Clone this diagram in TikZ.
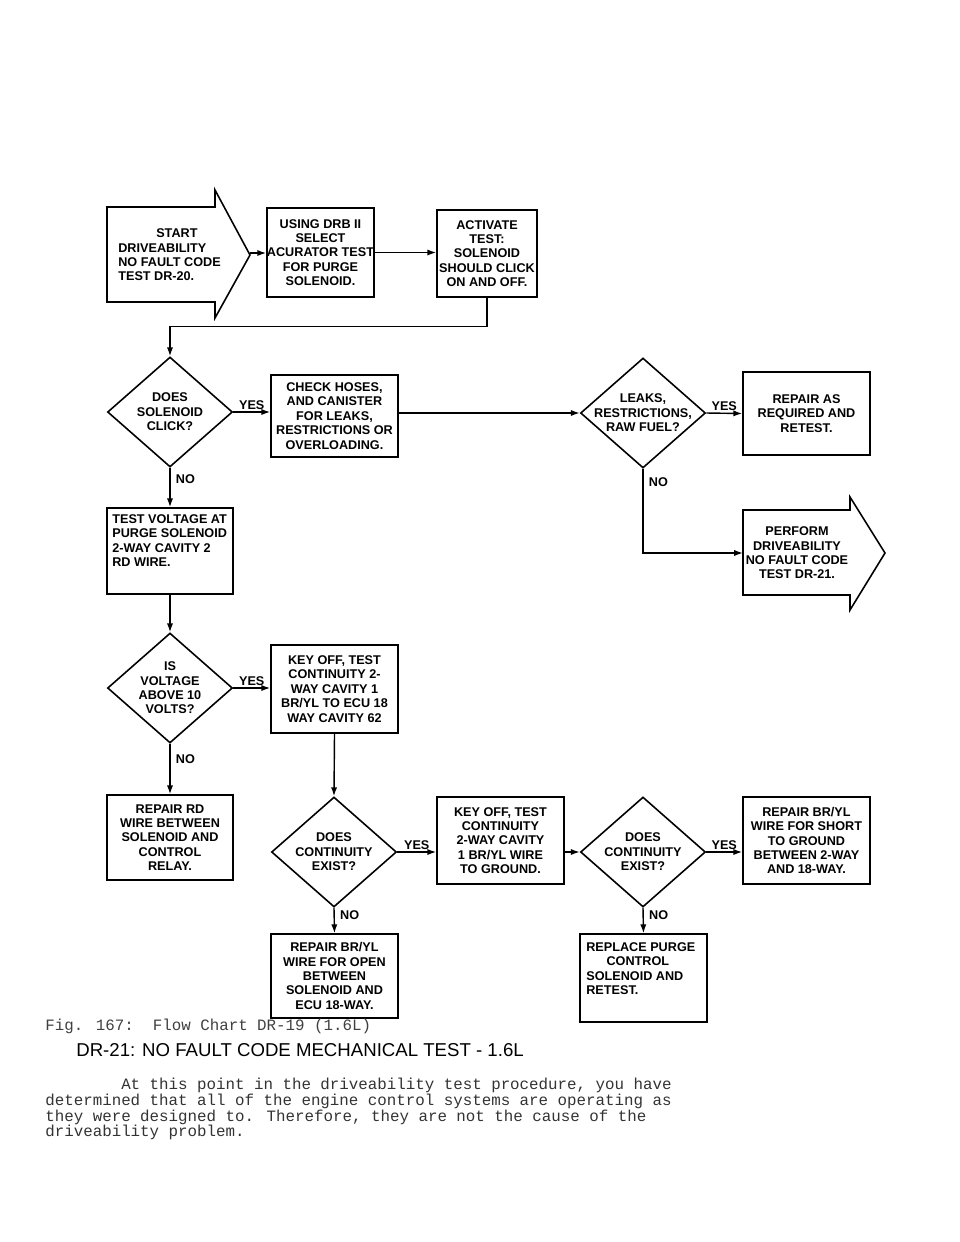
\documentclass[tikz,border=0pt]{standalone}
\usepackage{fontspec}
\setmainfont{Liberation Sans}
\newfontfamily\monof{Liberation Mono}
\usetikzlibrary{shapes.geometric,arrows.meta}
\begin{document}
\begin{tikzpicture}[x=0.02cm,y=-0.02cm,
  txt/.style={font=\fontsize{7.2}{8.2}\selectfont\bfseries,align=center,inner sep=0},
  box/.style={draw,line width=0.9pt,txt},
  dia/.style={draw,diamond,line width=0.9pt,minimum width=2.5cm,minimum height=2.2cm,inner sep=0},
  arr/.style={line width=0.8pt,-{Latex[length=5pt,width=3.5pt]}},
  lab/.style={font=\fontsize{7.2}{8}\selectfont\bfseries,inner sep=1pt}]
\useasboundingbox (0,0) rectangle (960,1242);
% start arrow
\draw[line width=0.9pt] (107,207)--(215,207)--(215,190)--(250,255)--(215,318)--(215,302)--(107,302)--cycle;
\node[txt,anchor=west,align=left] (s) at (118,255) {\hspace*{3em}START\\DRIVEABILITY\\NO FAULT CODE\\TEST DR-20.};
\coordinate (sp) at (250,253);
\node[box,minimum width=1.98cm,minimum height=1.78cm] (b2) at (320.5,252.5) {USING DRB II\\SELECT\\ACURATOR TEST\\FOR PURGE\\SOLENOID.};
\node[box,minimum width=2cm,minimum height=1.74cm] (b3) at (487,253.5) {ACTIVATE\\TEST:\\SOLENOID\\SHOULD CLICK\\ON AND OFF.};
\draw[arr] (sp) -- (b2.west|-sp);
\draw[arr] (b2.east) -- (b3.west|-b2.east);
\node[dia] (d1) at (170,412) {};
\node[txt] at (d1) {DOES\\SOLENOID\\CLICK?};
\draw[arr] (b3.south) -- ++(0,29) -| (d1.north);
\node[box,minimum width=2.54cm,minimum height=1.64cm] (b4) at (334.5,416) {CHECK HOSES,\\AND CANISTER\\FOR LEAKS,\\RESTRICTIONS OR\\OVERLOADING.};
\draw[arr] (d1.east) -- (b4.west|-d1) node[lab,pos=0.5,above] {YES};
\node[dia] (d2) at (643,413) {};
\node[txt] at (d2) {LEAKS,\\RESTRICTIONS,\\RAW FUEL?};
\draw[arr] (b4.east|-d2) -- (d2.west);
\node[box,minimum width=2.54cm,minimum height=1.66cm] (b5) at (806.5,413.5) {REPAIR AS\\REQUIRED AND\\RETEST.};
\draw[arr] (d2.east) -- (b5.west) node[lab,pos=0.5,above] {YES};
% perform arrow
\draw[line width=0.9pt] (743,510)--(850,510)--(850,497)--(885,553)--(850,610)--(850,595)--(743,595)--cycle;
\node[txt] (p) at (797,553) {PERFORM\\DRIVEABILITY\\NO FAULT CODE\\TEST DR-21.};
\coordinate (pw) at (743,553);
\draw[arr] (d2.south) |- (pw) node[lab,pos=0.08,right=2pt] {NO};
\node[box,minimum width=2.52cm,minimum height=1.72cm] (b6) at (170,551) {};
\node[txt,align=left,anchor=north west] at (112,514) {TEST VOLTAGE AT\\PURGE SOLENOID\\2-WAY CAVITY 2\\RD WIRE.};
\draw[arr] (d1.south) -- (b6.north) node[lab,pos=0.3,right=2pt] {NO};
\node[dia] (d3) at (170,688) {};
\node[txt] at (d3) {IS\\VOLTAGE\\ABOVE 10\\VOLTS?};
\draw[arr] (b6.south) -- (d3.north);
\node[box,minimum width=2.54cm,minimum height=1.76cm] (b7) at (334.5,689) {KEY OFF, TEST\\CONTINUITY 2-\\WAY CAVITY 1\\BR/YL TO ECU 18\\WAY CAVITY 62};
\draw[arr] (d3.east) -- (b7.west|-d3) node[lab,pos=0.5,above] {YES};
\node[box,minimum width=2.52cm,minimum height=1.7cm] (b8) at (170,837.5) {REPAIR RD\\WIRE BETWEEN\\SOLENOID AND\\CONTROL\\RELAY.};
\draw[arr] (d3.south) -- (b8.north) node[lab,pos=0.3,right=2pt] {NO};
\node[dia] (d4) at (334,852) {};
\node[txt] at (d4) {DOES\\CONTINUITY\\EXIST?};
\draw[arr] (b7.south) -- (d4.north);
\node[box,minimum width=2.54cm,minimum height=1.74cm] (b9) at (500.5,840.5) {KEY OFF, TEST\\CONTINUITY\\2-WAY CAVITY\\1 BR/YL WIRE\\TO GROUND.};
\draw[arr] (d4.east) -- (b9.west|-d4) node[lab,pos=0.5,above] {YES};
\node[box,minimum width=2.54cm,minimum height=1.68cm] (b10) at (334.5,976) {REPAIR BR/YL\\WIRE FOR OPEN\\BETWEEN\\SOLENOID AND\\ECU 18-WAY.};
\draw[arr] (d4.south) -- (b10.north) node[lab,pos=0.3,right=2pt] {NO};
\node[dia] (d5) at (643,852) {};
\node[txt] at (d5) {DOES\\CONTINUITY\\EXIST?};
\draw[arr] (b9.east|-d5) -- (d5.west);
\node[box,minimum width=2.54cm,minimum height=1.74cm] (b11) at (806.5,840.5) {REPAIR BR/YL\\WIRE FOR SHORT\\TO GROUND\\BETWEEN 2-WAY\\AND 18-WAY.};
\draw[arr] (d5.east) -- (b11.west|-d5) node[lab,pos=0.5,above] {YES};
\node[box,minimum width=2.54cm,minimum height=1.76cm] (b12) at (643.5,978) {};
\node[txt,align=left,anchor=north west] at (586,942) {REPLACE PURGE\\\hspace*{1.6em}CONTROL\\SOLENOID AND\\RETEST.};
\draw[arr] (d5.south) -- (b12.north) node[lab,pos=0.3,right=2pt] {NO};
% texts
\node[anchor=west,inner sep=0,font=\monof\fontsize{9}{10}\selectfont,text=black!75] (cap) at (45,1026) {Fig. 167:\ \ Flow Chart DR-19 (1.6L)};
\node[anchor=west,inner sep=0,font=\fontsize{10.6}{12}\selectfont] (hd) at (76,1050) {DR-21: NO FAULT CODE MECHANICAL TEST - 1.6L};
\node[anchor=north west,inner sep=0,align=left,font=\monof\fontsize{9}{8.9}\selectfont,text=black!80] (par) at (45,1078) {\hspace*{4.8em}At this point in the driveability test procedure, you have\\determined that all of the engine control systems are operating as\\they were designed to. Therefore, they are not the cause of the\\driveability problem.};
\end{tikzpicture}
\end{document}
